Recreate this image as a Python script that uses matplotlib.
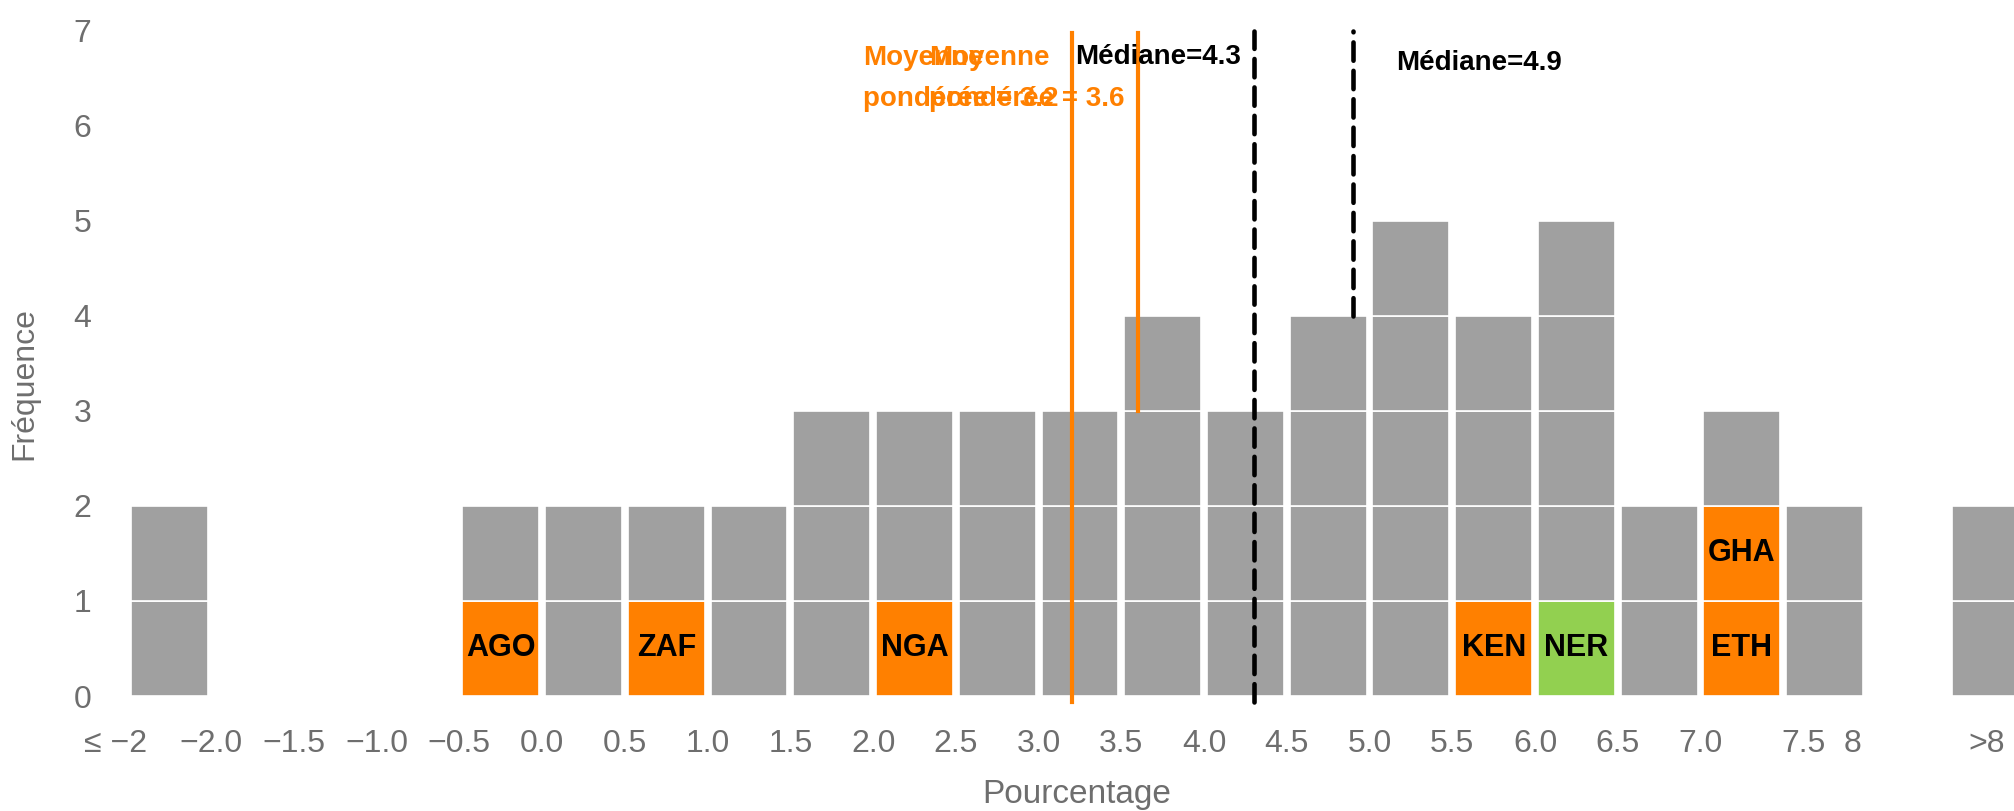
import matplotlib
matplotlib.use('agg')
import matplotlib.pyplot as plt
from matplotlib import font_manager

names = {f.name for f in font_manager.fontManager.ttflist}
narrow = 'Liberation Sans Narrow' if 'Liberation Sans Narrow' in names else 'Liberation Sans'
plt.rcParams['font.family'] = [narrow, 'DejaVu Sans']

# bins (left edge, width 0.5) ; -2.5 is the "<= -2" bin, 8.5 is the ">8" bin
bin_left = [-2.5, -2.0, -1.5, -1.0, -0.5, 0.0, 0.5, 1.0, 1.5, 2.0, 2.5,
            3.0, 3.5, 4.0, 4.5, 5.0, 5.5, 6.0, 6.5, 7.0, 7.5, 8.0, 8.5]
counts = [2, 0, 0, 0, 2, 2, 2, 2, 3, 3, 3,
          3, 4, 3, 4, 5, 4, 5, 2, 3, 2, 0, 2]

# highlighted countries: (bin left edge, row, label, colour)
hl_bin = [-0.5, 0.5, 2.0, 5.5, 6.0, 7.0, 7.0]
hl_row = [0, 0, 0, 0, 0, 0, 1]
hl_lab = ['AGO', 'ZAF', 'NGA', 'KEN', 'NER', 'ETH', 'GHA']
hl_col = ['#FF8000', '#FF8000', '#FF8000', '#FF8000', '#92D050', '#FF8000', '#FF8000']

tick_pos = [-2.58, -2.0, -1.5, -1.0, -0.5, 0.0, 0.5, 1.0, 1.5, 2.0, 2.5, 3.0,
            3.5, 4.0, 4.5, 5.0, 5.5, 6.0, 6.5, 7.0, 7.62, 7.92, 8.73]
tick_lab = ['≤ −2', '−2.0', '−1.5', '−1.0', '−0.5', '0.0', '0.5', '1.0', '1.5',
            '2.0', '2.5', '3.0', '3.5', '4.0', '4.5', '5.0', '5.5', '6.0', '6.5',
            '7.0', '7.5', '8', '>8']

mean_w = [3.2, 3.6]
mean_ymin = [-0.06, 3.0]
median = [4.3, 4.9]
median_ymin = [-0.06, 4.0]

grey = '#A0A0A0'
txt = '#6E6E6E'
orange = '#FF8000'

fig = plt.figure(figsize=[20.15, 8.11], dpi=100)
ax = fig.add_axes([0.0473, 0.1418, 1 - 0.0473, 0.82])

hl = {(b, r): (l, c) for b, r, l, c in zip(hl_bin, hl_row, hl_lab, hl_col)}
for b, n in zip(bin_left, counts):
    for r in range(n):
        lab, col = hl.get((b, r), (None, grey))
        ax.bar(b + 0.25, 1, bottom=r, width=0.465, color=col,
               edgecolor='white', linewidth=1.2)
        if lab:
            ax.text(b + 0.25, r + 0.5, lab, ha='center', va='center',
                    fontsize=22, fontweight='bold', color='black')

for x, y0 in zip(mean_w, mean_ymin):
    ax.plot([x, x], [y0, 6.98], color=orange, lw=3, clip_on=False, zorder=5)
    ax.text(x - 0.08, 6.5, 'Moyenne\npondérée = %.1f' % x, ha='right', va='center',
            multialignment='left', fontsize=20, fontweight='bold', color=orange,
            linespacing=1.75, zorder=6)

for x, y0 in zip(median, median_ymin):
    ax.plot([x, x], [y0, 7.0], color='black', lw=3.3, ls=(0, (4, 2.2)),
            dash_capstyle='round', clip_on=False, zorder=5)
ax.text(median[0] - 0.08, 6.73, 'Médiane=%.1f' % median[0], ha='right', va='center',
        fontsize=20, fontweight='bold', color='black', zorder=6)
ax.text(5.16, 6.66, 'Médiane=%.1f' % median[1], ha='left', va='center',
        fontsize=20, fontweight='bold', color='black', zorder=6)

ax.set_xlim(-2.7, 8.9)
ax.set_ylim(0, 7)
ax.set_yticks(range(8))
ax.set_xticks(tick_pos)
ax.set_xticklabels(tick_lab)
ax.tick_params(length=0, labelsize=23, colors=txt)
ax.tick_params(axis='x', pad=24)
ax.tick_params(axis='y', pad=3)
for s in ax.spines.values():
    s.set_visible(False)
ax.set_xlabel('Pourcentage', fontsize=24, color=txt)
ax.set_ylabel('Fréquence', fontsize=23, color=txt)
ax.xaxis.set_label_coords(0.511, -0.125)
ax.yaxis.set_label_coords(-0.029, 0.47)

fig.savefig('out.png', dpi=100, facecolor='white')
